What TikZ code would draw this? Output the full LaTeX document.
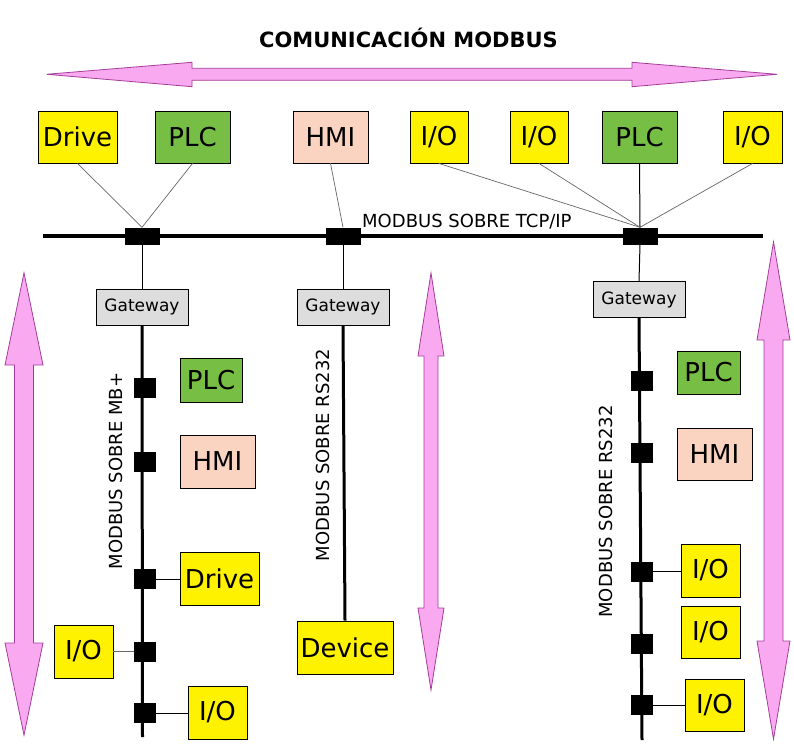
\documentclass[tikz,border=0pt]{standalone}
\usepackage{fontspec}
\setmainfont{DejaVu Sans}
\definecolor{ylw}{RGB}{255,242,0}
\definecolor{grn}{RGB}{119,190,68}
\definecolor{pch}{RGB}{251,212,193}
\definecolor{gwy}{RGB}{221,221,221}
\definecolor{pinkf}{RGB}{249,169,240}
\definecolor{pinkd}{RGB}{165,60,155}
\newcommand\pinkvarrow[7]{%
  \draw[pinkarrow] (#1,#2) -- (#1+#6,#3) -- (#1+#7,#3) -- (#1+#7,#4) -- (#1+#6,#4) -- (#1,#5)
    -- (#1-#6,#4) -- (#1-#7,#4) -- (#1-#7,#3) -- (#1-#6,#3) -- cycle;}
\tikzset{
  dev/.style={draw=black, line width=0.9pt, inner sep=0pt, font=\fontsize{26}{30}\selectfont, text=black},
  gw/.style={draw=black, line width=0.9pt, fill=gwy, inner sep=0pt, minimum width=92pt, minimum height=36pt, font=\fontsize{17}{20}\selectfont},
  conn/.style={fill=black, inner sep=0pt, minimum width=22pt, minimum height=20pt},
  tconn/.style={fill=black, inner sep=0pt, minimum width=35pt, minimum height=17pt},
  bus/.style={line width=3.5pt},
  vbus/.style={line width=3pt},
  link/.style={draw=black!60, line width=0.7pt},
  drop/.style={line width=1pt},
  pinkarrow/.style={fill=pinkf, draw=pinkd, line width=0.8pt},
  lbl/.style={font=\fontsize{18}{20}\selectfont, inner sep=0pt},
}
\begin{document}
\begin{tikzpicture}[x=1pt,y=-1pt]
\useasboundingbox[fill=white] (0,0) rectangle (794,754);

% title and top arrow
\node[font=\fontsize{21}{24}\selectfont\bfseries, inner sep=0pt, anchor=base] (title) at (408.5,48) {COMUNICACIÓN MODBUS};
\draw[pinkarrow] (46.6,74.3) -- (192,62.3) -- (192,68.3) -- (632,68.3) -- (632,62.3) -- (777,74.3)
  -- (632,86.7) -- (632,80.3) -- (192,80.3) -- (192,86.7) -- cycle;

% vertical pink arrows
\pinkvarrow{24}{273}{365}{643}{735}{19}{9.5}
\pinkvarrow{431}{273}{356}{608}{690}{13}{7}
\pinkvarrow{773.5}{242}{340}{641}{739}{16.5}{9.5}

% top devices
\node[dev, fill=ylw, minimum width=79pt, minimum height=52pt] (tdrive) at (77.5,137) {Drive};
\node[dev, fill=grn, minimum width=75pt, minimum height=52pt] (tplc) at (192.5,137) {PLC};
\node[dev, fill=pch, minimum width=75pt, minimum height=52pt] (thmi) at (330.5,137) {HMI};
\node[dev, fill=ylw, minimum width=58pt, minimum height=52pt] (tioa) at (439,137) {I/O};
\node[dev, fill=ylw, minimum width=58pt, minimum height=52pt] (tiob) at (539,137) {I/O};
\node[dev, fill=grn, minimum width=75pt, minimum height=52pt] (tplcb) at (639.5,137) {PLC};
\node[dev, fill=ylw, minimum width=59pt, minimum height=52pt] (tioc) at (752.5,137) {I/O};

% TCP/IP bus
\coordinate (busL) at (43,236);
\coordinate (busR) at (763,236);
\draw[bus] (busL) -- (busR);
\node[lbl, anchor=base west] (tcplbl) at (362,227) {MODBUS SOBRE TCP/IP};
\node[tconn] (tca) at (142,236) {};
\node[tconn] (tcb) at (343,236) {};
\node[tconn] (tcc) at (640,236) {};

\draw[link] (tdrive.south) -- (tca.north);
\draw[link] (tplc.south) -- (tca.north);
\draw[link] (thmi.south) -- (tcb.north);
\draw[link] (tioa.south) -- (tcc.north);
\draw[link] (tiob.south) -- (tcc.north);
\draw[drop] (tplcb.south) -- (tcc.north);
\draw[link] (tioc.south) -- (tcc.north);

% gateways
\node[gw] (gwa) at (142,307) {Gateway};
\node[gw] (gwb) at (343,307) {Gateway};
\node[gw] (gwc) at (639,299.5) {Gateway};
\draw[drop] (tca.south) -- (gwa.north);
\draw[drop] (tcb.south) -- (gwb.north);
\draw[drop] (tcc.south) -- (gwc.north);

% left column (MB+)
\coordinate (lend) at (142.5,737);
\draw[vbus] (gwa.south) -- (lend);
\node[lbl, rotate=90] (lbla) at (116,471) {MODBUS SOBRE MB+};
\node[conn] (lca) at (145,388) {};
\node[conn] (lcb) at (145,462) {};
\node[conn] (lcc) at (145,579) {};
\node[conn] (lcd) at (145,651.5) {};
\node[conn] (lce) at (145,713) {};
\node[dev, fill=grn, minimum width=62pt, minimum height=44pt] (lplc) at (211,380) {PLC};
\node[dev, fill=pch, minimum width=75pt, minimum height=53pt] (lhmi) at (217.5,461.5) {HMI};
\node[dev, fill=ylw, minimum width=79pt, minimum height=53pt] (ldrive) at (219.5,578.5) {Drive};
\node[dev, fill=ylw, minimum width=59pt, minimum height=53pt] (lioa) at (83.5,651.5) {I/O};
\node[dev, fill=ylw, minimum width=59pt, minimum height=53pt] (liob) at (217.5,712.5) {I/O};
\draw[drop] (lcc.east) -- (lcc.east -| ldrive.west);
\draw[link] (lioa.east) -- (lioa.east -| lcd.west);
\draw[drop] (lce.east) -- (lce.east -| liob.west);

% middle column (RS232)
\node[dev, fill=ylw, minimum width=96pt, minimum height=53pt] (mdev) at (345,647.5) {Device};
\draw[vbus] (gwb.south) -- (mdev.north);
\node[lbl, rotate=90] (lblb) at (323,455) {MODBUS SOBRE RS232};

% right column (RS232)
\coordinate (rend) at (642,740);
\draw[vbus] (gwc.south) -- (rend);
\node[lbl, rotate=90] (lblc) at (606,511.5) {MODBUS SOBRE RS232};
\node[conn] (rca) at (642,380.5) {};
\node[conn] (rcb) at (642,453) {};
\node[conn] (rcc) at (642,571.5) {};
\node[conn] (rcd) at (642,643.5) {};
\node[conn] (rce) at (642,705) {};
\node[dev, fill=grn, minimum width=63pt, minimum height=43pt] (rplc) at (708.5,372.5) {PLC};
\node[dev, fill=pch, minimum width=75pt, minimum height=52pt] (rhmi) at (714.5,454) {HMI};
\node[dev, fill=ylw, minimum width=59pt, minimum height=53pt] (rioa) at (710.5,570.5) {I/O};
\node[dev, fill=ylw, minimum width=59pt, minimum height=52pt] (riob) at (710.5,632) {I/O};
\node[dev, fill=ylw, minimum width=59pt, minimum height=52pt] (rioc) at (714.5,705) {I/O};
\draw[drop] (rcc.east) -- (rcc.east -| rioa.west);
\draw[drop] (rce.east) -- (rce.east -| rioc.west);
\end{tikzpicture}
\end{document}
